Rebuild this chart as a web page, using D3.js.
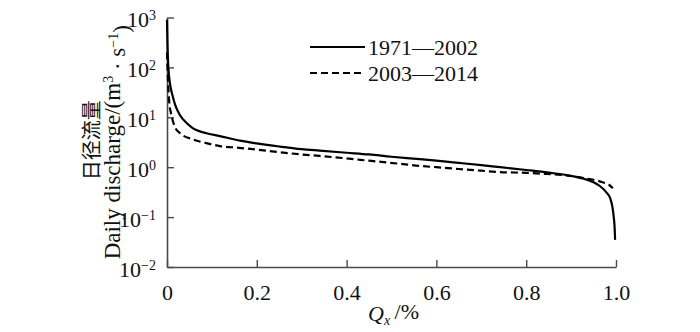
<!DOCTYPE html>
<html>
<head>
<meta charset="utf-8">
<script src="https://cdn.jsdelivr.net/npm/d3@7"></script>
<style>
  body { margin: 0; background: #fff; }
  svg { display: block; }
  svg text { font-family: "Liberation Serif", "Times New Roman", Times, "DejaVu Serif", serif; }
</style>
</head>
<body>
<div class="chart"></div>
<script>
// Flow duration curves (Q_x, daily discharge)
const series1Name = "1971\u20142002";
const series1Q = [0, 0.001, 0.003, 0.007, 0.012, 0.018, 0.029, 0.045, 0.058, 0.08, 0.118, 0.163, 0.2, 0.25, 0.3, 0.34, 0.4, 0.45, 0.5, 0.563, 0.6, 0.65, 0.7, 0.742, 0.8, 0.85, 0.904, 0.93, 0.95, 0.964, 0.979, 0.987, 0.992, 0.995, 0.997, 0.998];
const series1Val = [900, 300, 100, 45, 28, 18, 11, 7.5, 6, 5.0, 4.2, 3.4, 3.0, 2.6, 2.3, 2.15, 1.95, 1.8, 1.62, 1.45, 1.35, 1.22, 1.1, 1.0, 0.88, 0.78, 0.66, 0.58, 0.5, 0.42, 0.31, 0.24, 0.16, 0.1, 0.06, 0.035];

const series2Name = "2003\u20142014";
const series2Q = [0, 0.002, 0.005, 0.009, 0.018, 0.029, 0.058, 0.09, 0.118, 0.16, 0.2, 0.25, 0.3, 0.34, 0.4, 0.45, 0.519, 0.563, 0.6, 0.65, 0.7, 0.742, 0.8, 0.837, 0.87, 0.904, 0.93, 0.95, 0.97, 0.985, 0.993];
const series2Val = [200, 60, 20, 12, 6.3, 4.8, 3.6, 3.0, 2.65, 2.45, 2.25, 2.0, 1.8, 1.68, 1.5, 1.35, 1.17, 1.06, 1.0, 0.92, 0.85, 0.8, 0.77, 0.74, 0.71, 0.66, 0.6, 0.56, 0.5, 0.44, 0.38];

// Tick values and labels
const xTicks = [0, 0.2, 0.4, 0.6, 0.8, 1.0];
const xTickLabels = ["0", "0.2", "0.4", "0.6", "0.8", "1.0"];
const yTicks = [1e-2, 1e-1, 1e0, 1e1, 1e2, 1e3];
const yTickExps = ["\u22122", "\u22121", "0", "1", "2", "3"];

const serif = "'Liberation Serif', 'Times New Roman', Times, 'DejaVu Serif', serif";

const width = 700;
const height = 332;
const margin = {top: 17.5, right: 84, bottom: 65, left: 167};
const innerWidth = width - margin.left - margin.right;
const innerHeight = height - margin.top - margin.bottom;

const svg = d3.select(".chart")
  .append("svg")
    .attr("width", width)
    .attr("height", height)
    .attr("font-family", serif);

const g = svg.append("g")
  .attr("transform", `translate(${margin.left}, ${margin.top})`);

const x = d3.scaleLinear().domain([0, 1]).range([0, innerWidth]);
const y = d3.scaleLog().domain([1e-2, 1e3]).range([innerHeight, 0]);

const axisColor = "#4a4a4a";

// X axis, ticks point inward
const xAxis = g.append("g")
  .attr("transform", `translate(0, ${innerHeight})`)
  .call(d3.axisBottom(x)
    .tickValues(xTicks)
    .tickSizeInner(-7)
    .tickSizeOuter(0)
    .tickPadding(17)
    .tickFormat((d, i) => xTickLabels[i]));

// Y axis, labels get a superscript exponent
const yAxis = g.append("g")
  .call(d3.axisLeft(y)
    .tickValues(yTicks)
    .tickSizeInner(-7)
    .tickSizeOuter(0)
    .tickPadding(11)
    .tickFormat(() => ""));

[xAxis, yAxis].forEach(ax => {
  ax.attr("font-family", serif).attr("font-size", 22);
  ax.select(".domain").attr("stroke", axisColor).attr("stroke-width", 1.6);
  ax.selectAll(".tick line").attr("stroke", axisColor).attr("stroke-width", 1.4);
  ax.selectAll("text").attr("fill", "#111");
});

yAxis.selectAll(".tick text").each(function(d, i) {
  const t = d3.select(this).attr("dy", "0.42em");
  t.append("tspan").text("10");
  t.append("tspan")
    .attr("dy", "-0.5em")
    .attr("font-size", 14)
    .text(yTickExps[i]);
});

// Curves
const line = d3.line()
  .x(d => x(d[0]))
  .y(d => y(d[1]))
  .curve(d3.curveMonotoneX);

const data1 = series1Q.map((q, i) => [q, series1Val[i]]);
const data2 = series2Q.map((q, i) => [q, series2Val[i]]);

g.append("path")
  .datum(data2)
  .attr("fill", "none")
  .attr("stroke", "#000")
  .attr("stroke-width", 2.2)
  .attr("stroke-dasharray", "7,4")
  .attr("d", line);

g.append("path")
  .datum(data1)
  .attr("fill", "none")
  .attr("stroke", "#000")
  .attr("stroke-width", 2.2)
  .attr("d", line);

// Legend
const legend = svg.append("g").attr("transform", "translate(310, 47)");
const legendItems = [
  {name: series1Name, dash: null},
  {name: series2Name, dash: "7,4"}
];
legendItems.forEach((item, i) => {
  const row = legend.append("g").attr("transform", `translate(0, ${i * 26})`);
  row.append("line")
    .attr("x1", 0).attr("x2", 55)
    .attr("stroke", "#000")
    .attr("stroke-width", 2.2)
    .attr("stroke-dasharray", item.dash);
  row.append("text")
    .attr("x", 58)
    .attr("y", 8)
    .attr("font-size", 22)
    .attr("fill", "#111")
    .text(item.name);
});

// Y axis title: Chinese line and English line
const yTitle = svg.append("g")
  .attr("transform", `translate(0, ${margin.top + innerHeight / 2}) rotate(-90)`);
yTitle.append("text")
  .attr("x", 2)
  .attr("y", 99)
  .attr("text-anchor", "middle")
  .style("font-family", "'Noto Sans CJK SC', sans-serif")
  .attr("font-size", 20)
  .attr("fill", "#111")
  .text("日径流量");
const en = yTitle.append("text")
  .attr("x", 0)
  .attr("y", 120)
  .attr("text-anchor", "middle")
  .attr("font-size", 23)
  .attr("fill", "#111");
en.append("tspan").text("Daily discharge/(m");
en.append("tspan").attr("dy", "-0.5em").attr("font-size", 14).text("3");
en.append("tspan").attr("dy", "0.5em").text(" \u00b7 s");
en.append("tspan").attr("dy", "-0.5em").attr("font-size", 14).text("\u22121");
en.append("tspan").attr("dy", "0.5em").text(")");

// X axis title
const xTitle = svg.append("text")
  .attr("x", 368)
  .attr("y", 321)
  .attr("font-size", 22)
  .attr("fill", "#111");
xTitle.append("tspan").attr("font-style", "italic").text("Q");
xTitle.append("tspan").attr("dy", "0.3em").attr("font-style", "italic").attr("font-size", 14).text("x");
xTitle.append("tspan").attr("dy", "-0.3em").text("\u2009/%");
</script>
</body>
</html>
